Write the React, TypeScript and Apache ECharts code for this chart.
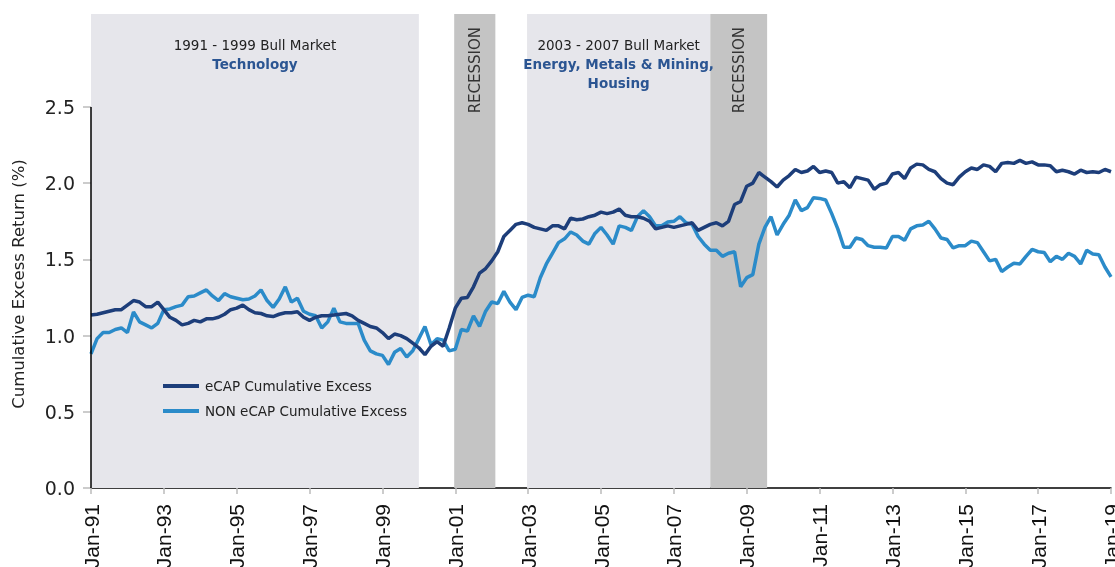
import React, { useEffect, useRef } from "react";
import * as echarts from "echarts";

// ---- Data (bi-monthly observations, Jan-1991 .. Jan-2019) ----
const START_YEAR = 1991;
const STEP_MONTHS = 2;

const ecap = [
  1.135, 1.14, 1.15, 1.16, 1.17, 1.17,
  1.2, 1.23, 1.22, 1.19, 1.19, 1.22,
  1.17, 1.12, 1.1, 1.07, 1.08, 1.1,
  1.09, 1.11, 1.11, 1.12, 1.14, 1.17,
  1.18, 1.2, 1.17, 1.15, 1.145, 1.13,
  1.125, 1.14, 1.15, 1.15, 1.157, 1.12,
  1.1, 1.12, 1.13, 1.13, 1.135, 1.14,
  1.145, 1.13, 1.1, 1.08, 1.06, 1.05,
  1.02, 0.98, 1.01, 1.0, 0.98, 0.95,
  0.92, 0.875, 0.93, 0.96, 0.93, 1.05,
  1.18, 1.245, 1.25, 1.32, 1.41, 1.44,
  1.49, 1.55, 1.65, 1.69, 1.73, 1.74,
  1.73, 1.71, 1.7, 1.69, 1.72, 1.72,
  1.7, 1.77, 1.76, 1.765, 1.78, 1.79,
  1.81, 1.8, 1.81, 1.83, 1.79, 1.78,
  1.78, 1.77, 1.75, 1.7, 1.71, 1.72,
  1.71, 1.72, 1.73, 1.74, 1.69, 1.71,
  1.73, 1.74, 1.72, 1.75, 1.86, 1.88,
  1.98, 2.0, 2.07, 2.04, 2.01, 1.975,
  2.02, 2.05, 2.09, 2.07, 2.08, 2.11,
  2.07, 2.08, 2.07, 2.0, 2.01, 1.97,
  2.04, 2.03, 2.02, 1.96, 1.99, 2.0,
  2.06, 2.07, 2.03, 2.1, 2.125, 2.12,
  2.09, 2.075, 2.03, 2.0, 1.99, 2.04,
  2.075, 2.1, 2.09, 2.12, 2.11, 2.075,
  2.13, 2.135, 2.13, 2.15, 2.13, 2.14,
  2.12, 2.12, 2.115, 2.075, 2.085, 2.075,
  2.06, 2.085, 2.07, 2.075, 2.07, 2.09,
  2.075,
];

const nonEcap = [
  0.88, 0.98, 1.02, 1.02, 1.04, 1.05,
  1.02, 1.155, 1.09, 1.07, 1.05, 1.08,
  1.17, 1.175, 1.19, 1.2, 1.255, 1.26,
  1.28, 1.3, 1.26, 1.23, 1.275, 1.255,
  1.245, 1.235, 1.24, 1.26, 1.3, 1.23,
  1.185, 1.24, 1.32, 1.22, 1.245, 1.16,
  1.14, 1.13, 1.05, 1.09, 1.18, 1.09,
  1.08, 1.08, 1.08, 0.97, 0.9, 0.88,
  0.87, 0.81, 0.89, 0.915, 0.86, 0.9,
  0.98, 1.06, 0.94, 0.98, 0.97, 0.9,
  0.91, 1.04, 1.03, 1.13, 1.06, 1.16,
  1.22, 1.21, 1.29, 1.22, 1.17, 1.25,
  1.265, 1.255, 1.38, 1.47, 1.54, 1.61,
  1.635, 1.68, 1.66, 1.62, 1.6, 1.67,
  1.71, 1.66, 1.6, 1.72, 1.71, 1.69,
  1.78, 1.82, 1.78, 1.72, 1.72, 1.745,
  1.75, 1.78, 1.74, 1.73, 1.65, 1.6,
  1.56, 1.56, 1.52, 1.54, 1.55, 1.32,
  1.38, 1.4, 1.6, 1.71, 1.78, 1.66,
  1.73, 1.79, 1.89, 1.82, 1.84, 1.905,
  1.9, 1.89, 1.8, 1.7, 1.58, 1.58,
  1.64, 1.63, 1.59, 1.58, 1.58, 1.575,
  1.65, 1.65, 1.625, 1.7, 1.72, 1.725,
  1.75, 1.7, 1.64, 1.63, 1.575, 1.59,
  1.59, 1.62, 1.61, 1.55, 1.49, 1.5,
  1.42, 1.45, 1.475, 1.47, 1.52, 1.565,
  1.55, 1.545, 1.485, 1.52, 1.5, 1.54,
  1.52, 1.47, 1.56, 1.535, 1.53, 1.45,
  1.385,
];

const seriesNames = ["eCAP Cumulative Excess", "NON eCAP Cumulative Excess"];
const seriesColors = ["#1d3e7a", "#2b8bc9"];
const yTickValues = [0, 0.5, 1.0, 1.5, 2.0, 2.5];

// shaded periods (decimal years)
const bullPeriods = [
  { from: 1991.0, to: 2000.0, title: "1991 - 1999 Bull Market", sectors: ["Technology"] },
  { from: 2002.97, to: 2008.0, title: "2003 - 2007 Bull Market", sectors: ["Energy, Metals & Mining,", "Housing"] },
];
const recessionPeriods = [
  { from: 2000.97, to: 2002.1 },
  { from: 2008.0, to: 2009.56 },
];

const FONT = "'DejaVu Sans', sans-serif";

export default function App() {
  const ref = useRef<HTMLDivElement>(null);

  useEffect(() => {
    if (!ref.current) return;
    const chart = echarts.init(ref.current, undefined, { renderer: "svg" });

    const toPoints = (arr: number[]) =>
      arr.map((v, i) => [START_YEAR + (i * STEP_MONTHS) / 12, v]);

    const bullAreas = bullPeriods.map((p) => [
      {
        xAxis: p.from,
        itemStyle: { color: "#e6e6eb" },
        label: {
          show: true,
          position: "insideTop",
          distance: 21,
          formatter: ["{a|" + p.title + "}", ...p.sectors.map((s) => "{b|" + s + "}")].join("\n"),
          rich: {
            a: { fontFamily: FONT, fontSize: 13.5, color: "#222", lineHeight: 19 },
            b: { fontFamily: FONT, fontSize: 13.5, fontWeight: "bold", color: "#2b5592", lineHeight: 19 },
          },
        },
      },
      { xAxis: p.to },
    ]);

    const recessionAreas = recessionPeriods.map((p) => [
      {
        xAxis: p.from,
        itemStyle: { color: "#c4c4c4" },
        label: {
          show: true,
          position: "insideTop",
          distance: 13,
          rotate: 90,
          align: "right",
          verticalAlign: "middle",
          formatter: "RECESSION",
          fontFamily: FONT,
          fontSize: 15,
          color: "#333",
        },
      },
      { xAxis: p.to },
    ]);

    chart.setOption({
      animation: false,
      grid: {
        left: 91,
        right: 4,
        top: 14,
        bottom: 79,
        containLabel: false,
        outerBoundsMode: "none",
      },
      legend: {
        orient: "vertical",
        left: 163,
        top: 379,
        padding: 0,
        icon: "rect",
        itemWidth: 36,
        itemHeight: 4,
        itemGap: 11,
        textStyle: { fontFamily: FONT, fontSize: 13.5, color: "#222", padding: [0, 0, 0, 1] },
        data: seriesNames,
      },
      graphic: [
        {
          type: "text",
          x: 18,
          y: 284,
          rotation: Math.PI / 2,
          style: {
            text: "Cumulative Excess Return (%)",
            fontFamily: FONT,
            fontSize: 16.5,
            fill: "#222",
            align: "center",
            verticalAlign: "middle",
          },
        },
      ],
      xAxis: {
        type: "value",
        min: 1991,
        max: 2019,
        interval: 2,
        axisLine: { show: true, lineStyle: { color: "#000", width: 1.5 } },
        axisTick: { show: true, length: 6, lineStyle: { color: "#bbb", width: 1.5 } },
        splitLine: { show: false },
        axisLabel: {
          rotate: 90,
          margin: 16,
          fontFamily: "'Liberation Sans', Arial, sans-serif",
          fontSize: 21,
          color: "#111",
          formatter: (v: number) => "Jan-" + String(Math.round(v)).slice(2),
        },
      },
      yAxis: {
        type: "value",
        min: 0,
        max: 3.11,
        axisLine: { show: false },
        splitLine: { show: false },
        axisTick: {
          show: true,
          length: 8,
          customValues: yTickValues,
          lineStyle: { color: "#bbb", width: 1.5 },
        },
        axisLabel: {
          margin: 16,
          customValues: yTickValues,
          fontFamily: FONT,
          fontSize: 19,
          color: "#222",
          formatter: (v: number) => v.toFixed(1),
        },
      },
      series: [
        {
          name: seriesNames[0],
          type: "line",
          data: toPoints(ecap),
          symbol: "none",
          showSymbol: false,
          z: 4,
          lineStyle: { color: seriesColors[0], width: 3.5 },
          itemStyle: { color: seriesColors[0] },
          markArea: {
            silent: true,
            z: 1,
            data: [...bullAreas, ...recessionAreas],
          },
          markLine: {
            silent: true,
            symbol: "none",
            label: { show: false },
            lineStyle: { color: "#000", width: 1.5, type: "solid" },
            data: [[{ coord: [1991, 0] }, { coord: [1991, 2.5] }]],
          },
        },
        {
          name: seriesNames[1],
          type: "line",
          data: toPoints(nonEcap),
          symbol: "none",
          showSymbol: false,
          z: 3,
          lineStyle: { color: seriesColors[1], width: 3.5 },
          itemStyle: { color: seriesColors[1] },
        },
      ],
    });

    return () => chart.dispose();
  }, []);

  return (
    <div
      ref={ref}
      style={{ position: "fixed", left: 0, top: 0, width: 1115, height: 567 }}
    />
  );
}
